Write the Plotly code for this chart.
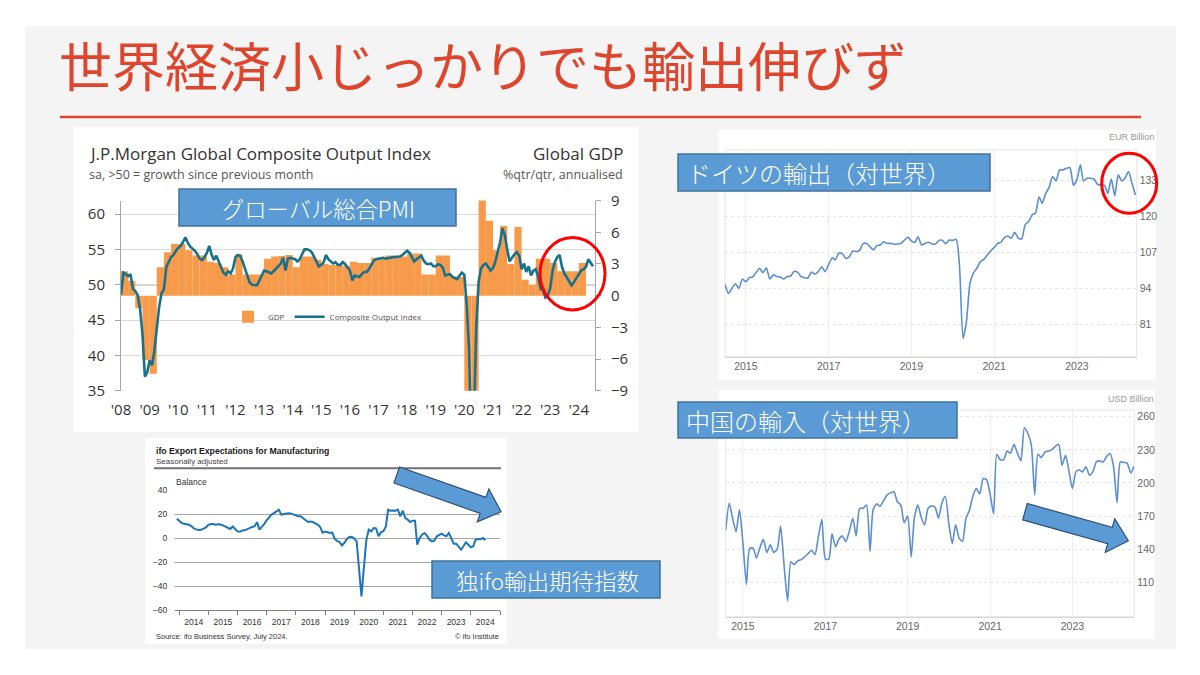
import math
import pandas as pd
import plotly.graph_objects as go

# the page body has an 8px margin, so the figure is laid out in slide pixels shifted by OFF
OFF = 8
W, H = 1200 - 2 * OFF, 675 - 2 * OFF

# J.P.Morgan Global Composite Output Index, monthly Jan 2008 - Jul 2024
pmi = [
    48.6, 51.7, 51.5, 51.2, 51.5, 49.4, 49.1, 48.5, 46.5, 43.0, 37.0, 37.6,  # 2008
    39.3, 38.6, 40.5, 44.2, 46.8, 48.8, 49.3, 52.5, 53.2, 53.9, 54.2, 54.8,  # 2009
    55.2, 55.5, 56.0, 56.7, 56.0, 55.4, 55.1, 54.8, 54.3, 53.7, 53.5, 53.9,  # 2010
    54.5, 55.5, 54.3, 53.5, 54.1, 53.4, 52.5, 51.7, 51.4, 51.9, 51.6, 52.3,  # 2011
    53.9, 54.2, 54.1, 53.3, 52.4, 51.2, 50.3, 50.0, 50.0, 49.9, 50.6, 51.3,  # 2012
    52.0, 51.9, 51.7, 51.6, 51.9, 52.2, 52.6, 53.0, 53.8, 52.0, 53.7, 53.8,  # 2013
    53.7, 53.6, 53.3, 53.6, 54.3, 55.0, 55.0, 54.9, 54.6, 53.9, 53.1, 52.6,  # 2014
    52.8, 53.2, 54.2, 53.6, 53.3, 53.0, 53.2, 52.8, 52.8, 53.2, 52.9, 52.5,  # 2015
    52.0, 50.6, 51.3, 51.2, 51.1, 51.5, 51.8, 51.8, 52.2, 52.8, 53.4, 53.6,  # 2016
    53.7, 53.7, 53.8, 53.7, 53.7, 53.8, 53.9, 53.9, 53.9, 54.0, 54.2, 54.5,  # 2017
    54.8, 54.5, 54.0, 53.3, 53.6, 53.8, 54.1, 53.4, 53.0, 52.9, 53.0, 52.6,  # 2018
    52.6, 52.9, 52.8, 52.4, 51.3, 51.4, 51.5, 51.1, 50.9, 50.8, 51.3, 51.7,  # 2019
    51.4, 47.0, 41.0, 26.2, 30.0, 44.0, 50.4, 52.3, 52.8, 53.0, 52.5, 52.0,  # 2020
    52.4, 53.3, 54.6, 56.0, 58.0, 57.0, 55.0, 53.3, 53.8, 54.3, 54.6, 54.1,  # 2021
    52.2, 53.0, 51.8, 52.6, 51.3, 52.0, 52.2, 51.1, 49.4, 49.2, 48.2, 48.5,  # 2022
    49.5, 52.0, 53.2, 53.9, 54.2, 52.5, 51.6, 51.0, 50.6, 49.9, 50.4, 50.9,  # 2023
    51.5, 52.0, 52.2, 52.5, 53.6, 53.0, 52.6,                                # 2024
]

# Global GDP, %qtr/qtr annualised, 2008Q1 - 2024Q1
gdp = [
    2.3, 1.4, -1.2, -6.1,
    -7.4, 2.7, 4.1, 4.9,
    4.9, 4.3, 3.8, 3.8,
    3.2, 3.1, 2.7, 2.0,
    3.9, 2.0, 2.0, 2.0,
    3.5, 3.7, 3.75, 3.85,
    2.7, 3.7, 3.7, 3.4,
    3.0, 2.9, 2.9, 2.8,
    3.2, 3.1, 3.1, 3.6,
    3.6, 3.8, 3.7, 3.7,
    4.0, 4.0, 2.0, 2.0,
    3.8, 3.8, 1.8, 1.8,
    -12.0, -30.0, 10.0, 7.1,
    4.3, 6.6, 3.0, 6.5,
    1.5, 1.0, 3.5, 3.5,
    3.1, 2.3, 2.3, 2.3,
    3.1,
]
jpm_years = list(range(2008, 2025))
jpm_year_labels = ["'%02d" % (y % 100) for y in jpm_years]
pmi_ticks = [35, 40, 45, 50, 55, 60]
gdp_ticks = [-9, -6, -3, 0, 3, 6, 9]

# ifo export expectations, balance, Dec 2013 - Jul 2024
ifo_export = [
    16, 14, 12.4, 11.9, 11.5, 11, 10, 8, 7.2, 6.6, 6.8, 8.0,
    8.9, 11, 11.7, 11.6, 11.1, 11.4, 11.3, 10.5, 9.5, 8.5, 7.5, 9.6,
    7.5, 5.5, 5.3, 6.3, 6.4, 7.5, 8.8, 9.2, 9.8, 13.2, 7.0, 9.2,
    11.8, 15, 17.2, 19.5, 20.7, 21.8, 23.6, 19.5, 20, 20.5, 20.7, 20.3,
    19.5, 18.6, 18.1, 18.1, 16.5, 15, 13.3, 13.7, 13.3, 12.2, 11.2, 9.2,
    4.5, 5.3, 4.4, 4.2, 4.5, -0.5, -2.5, -3.4, -6.2, -4.0, -0.8, 0.8,
    1.0, -0.5, -2.8, -25, -48.6, -25, -2, 7, 5.6, 8.3, 8.0, 1.4,
    4.7, 5.6, 9.7, 23.6, 22.8, 23, 22.8, 23.6, 18.1, 22.8, 16.7, 15.3,
    13.3, 14.4, 14.4, -5.6, 0, 2.8, 4.2, 1.9, -1.4, -2.8, -2.2, 1.4,
    2.8, 3.6, 2.2, 1.4, 4.2, 0, -4.7, -4.7, -6.9, -9.7, -6.9, -3.6,
    -5.6, -7.8, -6.9, -1.4, -0.8, -1.1, 0, -1.9,
]
ifo_years = list(range(2014, 2025))
ifo_ticks = [-60, -40, -20, 0, 20, 40]

# Germany exports, EUR billion, Jul 2014 - Jun 2024
de_exports = [
    95.5, 92.2, 94.1, 95.7, 94.0, 97.4,
    96.4, 97.9, 98.1, 99.7, 101.3, 99.7, 101.5, 97.4, 98.9, 98.3, 98.1, 97.4,
    98.3, 98.5, 100.1, 99.9, 98.3, 97.9, 97.7, 99.9, 99.2, 100.1, 101.8, 100.1,
    102.7, 105.1, 104.3, 106.8, 106.6, 104.9, 105.4, 107.6, 107.3, 107.8, 110.2, 110.3,
    109.1, 107.9, 109.5, 109.7, 110.9, 110.3, 110.3, 110.0, 110.1, 110.3, 111.5, 112.5,
    111.2, 110.7, 112.7, 109.7, 110.3, 110.7, 110.2, 110.0, 111.4, 111.4, 110.2, 111.5,
    111.4, 111.8, 102.0, 75.9, 82.0, 95.8, 99.5, 101.3, 103.7, 104.5, 106.1, 107.6,
    108.8, 110.3, 110.7, 112.4, 113.0, 112.2, 114.3, 112.2, 111.9, 117.0, 118.2, 120.6,
    121.3, 127.2, 124.8, 128.4, 130.6, 134.5, 132.9, 136.9, 136.9, 137.5, 137.7, 131.4,
    133.3, 138.7, 132.9, 133.9, 133.9, 133.6, 131.7, 131.4, 131.4, 128.4, 133.6, 127.5,
    135.1, 132.9, 133.9, 136.3, 132.1, 127.8,
]
de_ticks = [81, 94, 107, 120, 133]

# China imports, USD billion, Aug 2014 - Jul 2024
cn_imports = [
    157.3, 181.5, 168, 155.8, 176,
    145, 108, 140.6, 141, 132, 141.5, 149, 137, 144, 137, 140, 161,
    125, 93, 128.5, 126, 129.5, 130.5, 133, 136, 139, 135, 152, 167,
    131, 131, 154, 142, 149, 152, 147, 156, 168, 152, 177, 177,
    180, 138, 176, 181, 179, 184, 189, 191, 192, 183, 180, 164,
    170, 133, 168, 180, 169, 162, 177, 179, 178, 168, 182, 188,
    163, 145, 162, 150, 147, 168, 175, 188, 195, 190, 204, 203,
    190, 172, 226, 221, 221, 229, 227, 235, 227, 220, 250, 245,
    235, 189, 226, 223, 228, 229, 230, 233, 235, 216, 225, 211,
    195, 210, 212, 210, 214.7, 207, 210, 219, 220, 219, 224, 226.7,
    215, 182, 219, 218.6, 218, 209, 215,
]
cn_ticks = [110, 140, 170, 200, 230, 260]

pmi_dates = pd.date_range("2008-01-01", periods=len(pmi), freq="MS")
gdp_dates = pd.date_range("2008-01-01", periods=len(gdp), freq="QS")
ifo_dates = pd.date_range("2013-12-01", periods=len(ifo_export), freq="MS")
de_dates = pd.date_range("2014-07-01", periods=len(de_exports), freq="MS")
cn_dates = pd.date_range("2014-08-01", periods=len(cn_imports), freq="MS")

JP = "Noto Sans CJK JP"
SANS = "Open Sans"
NARROW = "Liberation Sans Narrow, Arial Narrow, Liberation Sans"
RED_TITLE = "#DF452C"
BLUE_BOX = "#5B9BD5"


def px(x):
    return (x - OFF) / W


def py(y):
    return 1 - (y - OFF) / H


def rect(x0, y0, x1, y1, fill, line=None, lw=0, layer="below"):
    return dict(type="rect", xref="paper", yref="paper",
                x0=px(x0), x1=px(x1), y0=py(y1), y1=py(y0),
                fillcolor=fill, line=dict(color=line or fill, width=lw), layer=layer)


def ellipse(cx, cy, rx, ry):
    return dict(type="circle", xref="paper", yref="paper",
                x0=px(cx - rx), x1=px(cx + rx), y0=py(cy + ry), y1=py(cy - ry),
                line=dict(color="#FF0000", width=3), layer="above")


def arrow(tail, tip, shaft=8.5, head=17.5, head_len=19):
    (x0, y0), (x1, y1) = tail, tip
    length = math.hypot(x1 - x0, y1 - y0)
    ux, uy = (x1 - x0) / length, (y1 - y0) / length
    nx, ny = -uy, ux
    bx, by = x1 - ux * head_len, y1 - uy * head_len
    pts = [(x0 + nx * shaft, y0 + ny * shaft), (bx + nx * shaft, by + ny * shaft),
           (bx + nx * head, by + ny * head), (x1, y1),
           (bx - nx * head, by - ny * head), (bx - nx * shaft, by - ny * shaft),
           (x0 - nx * shaft, y0 - ny * shaft)]
    path = "M " + " L ".join(f"{px(a):.5f},{py(b):.5f}" for a, b in pts) + " Z"
    return dict(type="path", xref="paper", yref="paper", path=path,
                fillcolor=BLUE_BOX, line=dict(color="#2F4F75", width=1.2), layer="above")


def text(s, x, y, size, color, family, xanchor="left", weight="normal"):
    return dict(text=s, x=px(x), y=py(y), xref="paper", yref="paper",
                xanchor=xanchor, yanchor="middle", showarrow=False,
                font=dict(size=size, color=color, family=family, weight=weight))


fig = go.Figure()

# JPM chart: bars on the right (GDP) axis, line on the left (PMI) axis
fig.add_trace(go.Bar(
    x=gdp_dates, y=gdp, name="GDP", xaxis="x", yaxis="y",
    xperiod="M3", xperiodalignment="middle", width=92 * 86400000,
    marker=dict(color="#F79A4A", line=dict(width=0)),
))
fig.add_trace(go.Scatter(
    x=pmi_dates, y=pmi, name="Composite Output Index", xaxis="x", yaxis="y2",
    mode="lines", line=dict(color="#17718C", width=2.6),
))

fig.add_trace(go.Scatter(
    x=ifo_dates, y=ifo_export, xaxis="x2", yaxis="y3", mode="lines",
    line=dict(color="#1C75BC", width=2), showlegend=False,
))
fig.add_trace(go.Scatter(
    x=de_dates, y=de_exports, xaxis="x3", yaxis="y4", mode="lines",
    line=dict(color="#5B8ED2", width=1.6, shape="spline", smoothing=0.6), showlegend=False,
))
fig.add_trace(go.Scatter(
    x=cn_dates, y=cn_imports, xaxis="x4", yaxis="y5", mode="lines",
    line=dict(color="#5B8ED2", width=1.6, shape="spline", smoothing=0.6), showlegend=False,
))

jpm_font = dict(size=15, color="#333333", family=SANS)
narrow9 = dict(size=8.5, color="#333333", family=NARROW)
te_font = dict(size=10.5, color="#666666", family=NARROW)

shapes = [
    rect(25, 26, 1176, 649, "#F4F4F4"),
    rect(74, 127, 638, 432, "white"),
    rect(145, 438, 507, 644, "white"),
    rect(718, 130, 1156, 380, "white"),
    rect(718, 390, 1155, 639, "white"),
    dict(type="line", xref="paper", yref="paper", x0=px(60), x1=px(1141), y0=py(117), y1=py(117),
         line=dict(color=RED_TITLE, width=2.5)),
    dict(type="line", xref="x domain", yref="y2", x0=0, x1=1, y0=50, y1=50,
         line=dict(color="#a6a6a6", width=1.5), layer="below"),
    dict(type="line", xref="paper", yref="paper", x0=px(154), x1=px(501), y0=py(468.3), y1=py(468.3),
         line=dict(color="#707070", width=2)),
    dict(type="rect", xref="x3 domain", yref="y4 domain", x0=0, x1=1, y0=0, y1=1,
         line=dict(color="#e4e4e4", width=1), layer="below"),
    dict(type="rect", xref="x4 domain", yref="y5 domain", x0=0, x1=1, y0=0, y1=1,
         line=dict(color="#e4e4e4", width=1), layer="below"),
    rect(179, 189, 456, 226, BLUE_BOX, "#41719C", 1.5, "above"),
    rect(432, 561, 660, 598, BLUE_BOX, "#41719C", 1.5, "above"),
    rect(678, 154, 990, 191, BLUE_BOX, "#41719C", 1.5, "above"),
    rect(678, 402, 957, 438, BLUE_BOX, "#41719C", 1.5, "above"),
    arrow((396.7, 475), (501, 511.7)),
    arrow((1025, 511.7), (1128.3, 540.7)),
    ellipse(572.5, 273.7, 32.5, 36.3),
    ellipse(1129.2, 183.3, 27.5, 30),
]

annotations = [
    text("世界経済小じっかりでも輸出伸びず", 57, 63.5, 53, RED_TITLE, JP),
    text("J.P.Morgan Global Composite Output Index", 87, 154, 17, "#333333", SANS),
    text("sa, >50 = growth since previous month", 87, 175, 12.5, "#555555", SANS),
    text("Global GDP", 625, 154, 17, "#333333", SANS, "right"),
    text("%qtr/qtr, annualised", 625, 175, 12.5, "#555555", SANS, "right"),
    text("<b>ifo Export Expectations for Manufacturing</b>", 154, 451, 8.7, "#1a1a1a", NARROW),
    text("Seasonally adjusted", 154, 461.5, 8, "#404040", NARROW),
    text("Balance", 174, 482, 8.5, "#333333", NARROW),
    text("Source: ifo Business Survey, July 2024.", 154, 636, 7.5, "#333333", NARROW),
    text("© ifo Institute", 501, 636, 7.5, "#333333", NARROW, "right"),
    text("EUR Billion", 1132, 137, 9, "#999999", NARROW, "center"),
    text("USD Billion", 1131, 398.5, 9, "#999999", NARROW, "center"),
    text("グローバル総合PMI", 318, 207.5, 22.3, "white", JP, "center", 300),
    text("独ifo輸出期待指数", 547, 579.5, 22.5, "white", JP, "center", 300),
    text("ドイツの輸出（対世界）", 819, 172.5, 24, "white", JP, "center", 300),
    text("中国の輸入（対世界）", 806, 420, 24, "white", JP, "center", 300),
]

fig.update_layout(
    width=W, height=H, margin=dict(l=0, r=0, t=0, b=0, pad=0, autoexpand=False),
    paper_bgcolor="white", plot_bgcolor="rgba(0,0,0,0)",
    showlegend=True,
    legend=dict(x=px(228), y=py(316.7), xanchor="left", yanchor="middle", orientation="h",
                font=dict(size=8, color="#555555", family=SANS), bgcolor="rgba(0,0,0,0)",
                itemwidth=30, tracegroupgap=0),
    shapes=shapes, annotations=annotations,
    # JPM
    xaxis=dict(domain=[px(121), px(595)], anchor="y", type="date", automargin=False,
               range=["2008-01-01", "2024-07-26"],
               tickvals=[f"{y}-01-01" for y in jpm_years], ticktext=jpm_year_labels,
               showgrid=False, zeroline=False, showline=False, ticks="",
               tickfont=jpm_font, ticklabelstandoff=8),
    yaxis=dict(domain=[py(390.7), py(200.6)], anchor="x", side="right", range=[-9, 9],
               automargin=False, tickvals=gdp_ticks, showgrid=False, zeroline=False,
               showline=True, linecolor="#a6a6a6", ticks="outside", ticklen=5,
               tickcolor="#a6a6a6", tickfont=jpm_font, ticklabelstandoff=7),
    yaxis2=dict(overlaying="y", anchor="x", side="left", range=[35, 61.9], automargin=False,
                tickvals=pmi_ticks, showgrid=True, gridcolor="#d9d9d9", zeroline=False,
                showline=True, linecolor="#a6a6a6", ticks="outside", ticklen=5,
                tickcolor="#a6a6a6", tickfont=jpm_font, ticklabelstandoff=7),
    # ifo
    xaxis2=dict(domain=[px(175), px(500)], anchor="y3", type="date", automargin=False,
                range=["2013-11-08", "2025-01-01"],
                tickvals=[f"{y}-07-01" for y in ifo_years], ticktext=[str(y) for y in ifo_years],
                ticks="", showgrid=False, zeroline=False,
                showline=True, linecolor="#808080", linewidth=1.2,
                minor=dict(tickmode="array", tickvals=[f"{y}-01-01" for y in ifo_years + [2025]],
                           ticks="outside", ticklen=4, tickcolor="#808080", showgrid=False),
                tickfont=narrow9, ticklabelstandoff=4),
    yaxis3=dict(domain=[py(610), py(489.4)], anchor="x2", range=[-60, 40.5], automargin=False,
                tickvals=ifo_ticks, showgrid=True, gridcolor="#a6a6a6", gridwidth=1.2,
                zeroline=False, showline=False, ticks="outside", ticklen=5,
                tickcolor="rgba(0,0,0,0)", tickfont=narrow9),
    # Germany exports
    xaxis3=dict(domain=[px(725), px(1136.7)], anchor="y4", type="date", automargin=False,
                range=["2014-07-01", "2024-06-12"], tick0="2015-01-01", dtick="M24",
                tickformat="%Y", showgrid=True, gridcolor="#eeeeee", zeroline=False,
                showline=True, linecolor="#d6d6d6", ticks="", tickfont=te_font),
    yaxis4=dict(domain=[py(356.7), py(150)], anchor="x3", side="right", range=[69.3, 144.1],
                automargin=False, tickvals=de_ticks, showgrid=True, gridcolor="#e6e6e6",
                griddash="dot", zeroline=False, showline=False, ticks="", tickfont=te_font,
                ticklabelstandoff=2),
    # China imports
    xaxis4=dict(domain=[px(725.7), px(1134.3)], anchor="y5", type="date", automargin=False,
                range=["2014-08-01", "2024-07-03"], tick0="2015-01-01", dtick="M24",
                tickformat="%Y", showgrid=True, gridcolor="#eeeeee", zeroline=False,
                showline=True, linecolor="#d6d6d6", ticks="", tickfont=te_font),
    yaxis5=dict(domain=[py(616.7), py(410)], anchor="x4", side="right", range=[78.8, 266.1],
                automargin=False, tickvals=cn_ticks, showgrid=True, gridcolor="#e6e6e6",
                griddash="dot", zeroline=False, showline=False, ticks="", tickfont=te_font,
                ticklabelstandoff=2),
)

fig.write_html("out.html")
